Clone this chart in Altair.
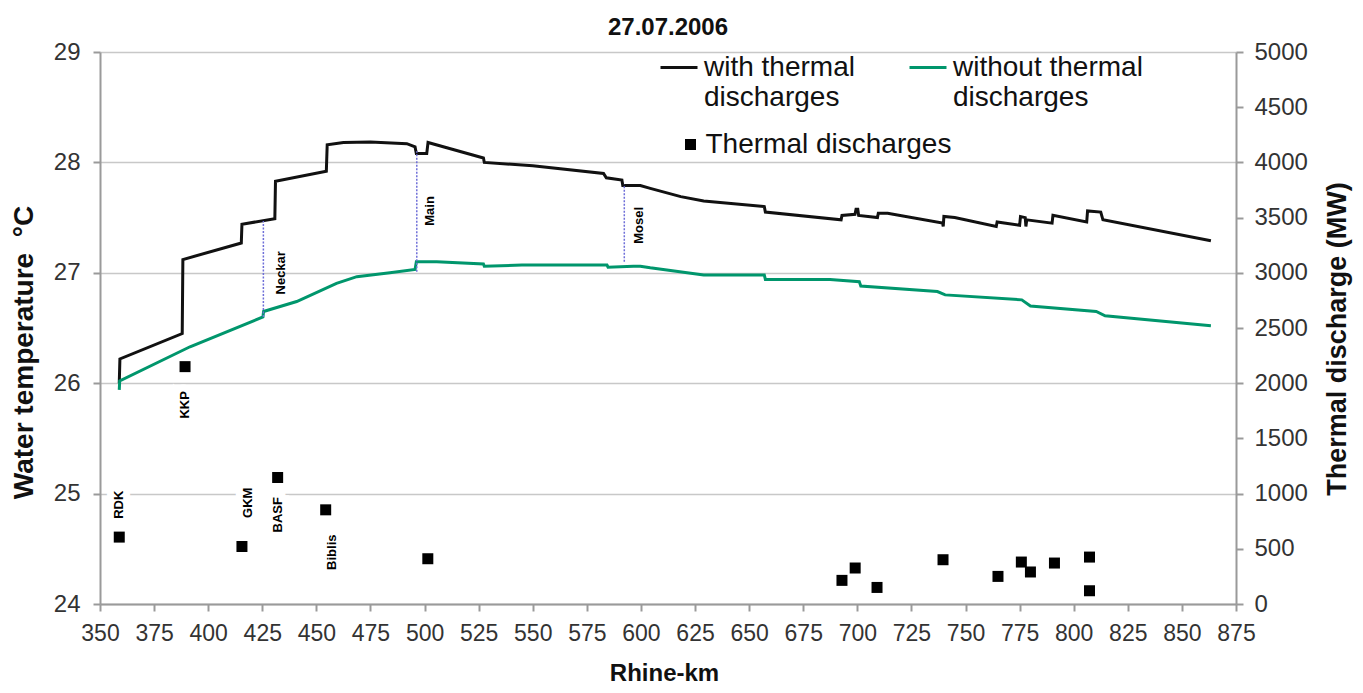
import altair as alt
import pandas as pd

# ---------------- data ----------------
X_TICKS = list(range(350, 876, 25))
Y_LEFT_TICKS = [24, 25, 26, 27, 28, 29]
Y_RIGHT_TICKS = list(range(0, 5001, 500))

SERIES = ["with thermal discharges", "without thermal discharges"]

km_with = [358.9, 359.2, 388.0, 388.3, 415.3, 415.6, 430.8, 431.1, 454.6, 455.0,
           462.5, 475.0, 491.8, 495.6, 496.2, 501.0, 501.6, 527.2, 527.6, 550.0,
           582.7, 584.0, 591.2, 591.6, 599.7, 604.3, 618.4, 629.0, 657.0, 657.5,
           692.5, 692.9, 698.9, 699.4, 700.2, 700.6, 709.3, 709.7, 714.0, 739.4,
           739.7, 740.0, 745.0, 764.2, 764.6, 775.0, 775.4, 777.6, 777.9, 778.3,
           790.0, 790.4, 806.0, 806.4, 812.5, 813.5, 863.4]
t_with = [26.00, 26.22, 26.45, 27.12, 27.27, 27.44, 27.49, 27.83, 27.92, 28.16,
          28.18, 28.185, 28.17, 28.14, 28.08, 28.08, 28.18, 28.04, 28.00, 27.97,
          27.90, 27.86, 27.84, 27.79, 27.79, 27.765, 27.69, 27.65, 27.60, 27.55,
          27.48, 27.52, 27.53, 27.575, 27.575, 27.52, 27.50, 27.54, 27.54, 27.45,
          27.42, 27.51, 27.50, 27.42, 27.46, 27.43, 27.51, 27.50, 27.42, 27.48,
          27.45, 27.52, 27.46, 27.56, 27.55, 27.48, 27.29]

km_without = [358.9, 359.1, 391.6, 425.3, 425.6, 440.9, 459.3, 468.7, 484.0, 495.6,
              496.2, 505.6, 527.2, 527.6, 545.0, 584.3, 584.8, 596.5, 599.7, 604.3,
              629.0, 657.0, 657.5, 687.4, 700.9, 701.6, 737.0, 740.6, 776.0, 780.0,
              810.4, 814.5, 863.4]
t_without = [25.94, 26.02, 26.33, 26.60, 26.65, 26.74, 26.905, 26.965, 27.00, 27.03,
             27.10, 27.10, 27.08, 27.06, 27.07, 27.07, 27.05, 27.06, 27.06, 27.045,
             26.98, 26.98, 26.94, 26.94, 26.92, 26.88, 26.83, 26.80, 26.755, 26.70,
             26.65, 26.61, 26.52]

# thermal discharges (MW, right axis)
plant_km = [358.9, 389.3, 415.6, 432.1, 454.3, 501.5, 692.9, 699.0, 709.1, 739.6,
            765.0, 775.8, 780.0, 791.1, 807.3, 807.3]
plant_mw = [606, 2150, 521, 1146, 853, 410, 214, 326, 150, 401,
            250, 380, 290, 371, 425, 120]

# named plants: label centre in data units
plant_names = ["RDK", "KKP", "GKM", "BASF", "Biblis"]
plant_label_km = [359.0, 389.3, 418.4, 432.4, 457.3]
plant_label_mw = [899, 1804, 917, 808, 469]

# tributaries
trib_names = ["Neckar", "Main", "Mosel"]
trib_km = [425.5, 496.4, 592.3]
trib_t_low = [26.60, 27.01, 27.10]
trib_t_high = [27.47, 28.10, 27.80]
trib_label_km = [433.7, 502.6, 599.2]
trib_label_t = [27.00, 27.56, 27.43]

# ---------------- tables ----------------
lines_df = pd.DataFrame({
    "km": km_with + km_without,
    "T": t_with + t_without,
    "series": [SERIES[0]] * len(km_with) + [SERIES[1]] * len(km_without),
    "idx": list(range(len(km_with))) + list(range(len(km_without))),
})
plants_df = pd.DataFrame({"km": plant_km, "MW": plant_mw, "kind": "Thermal discharges"})
plant_lab_df = pd.DataFrame({"km": plant_label_km, "MW": plant_label_mw, "name": plant_names})
trib_df = pd.DataFrame({"km": trib_km, "lo": trib_t_low, "hi": trib_t_high})
trib_lab_df = pd.DataFrame({"km": trib_label_km, "T": trib_label_t, "name": trib_names})

FONT = "Liberation Sans"

x_axis = alt.Axis(values=X_TICKS, title="Rhine-km", grid=False, labelFontSize=23,
                  tickSize=7, labelPadding=11, labelFlush=False, labelOverlap=False,
                  labelBound=False, titleFontSize=24, titleX=564, titleY=69,
                  titleBaseline="middle", titleAlign="center")
x_enc = alt.X("km:Q", scale=alt.Scale(domain=[350, 875], nice=False, zero=False), axis=x_axis)

y_left_axis = alt.Axis(values=Y_LEFT_TICKS, orient="left", title="Water temperature \u00a0°C",
                       grid=True, gridColor="#c8c8c8", gridWidth=1.5, labelFontSize=24,
                       tickSize=7, labelPadding=13, titleFontSize=28, titleAngle=270,
                       titleX=-76, titleY=300, titleBaseline="middle", titleAlign="center")
y_left_scale = alt.Scale(domain=[24, 29], nice=False, zero=False)

y_right_axis = alt.Axis(values=Y_RIGHT_TICKS, orient="right", title="Thermal discharge (MW)",
                        format="d", grid=False, labelFontSize=24, tickSize=7, labelPadding=11,
                        titleFontSize=27, titleAngle=270, titleX=101.5, titleY=286.5,
                        titleBaseline="middle", titleAlign="center")
y_right_scale = alt.Scale(domain=[0, 5000], nice=False, zero=True)

lines = alt.Chart(lines_df).mark_line(strokeWidth=3).encode(
    x=x_enc,
    y=alt.Y("T:Q", scale=y_left_scale, axis=y_left_axis),
    color=alt.Color("series:N",
                    scale=alt.Scale(domain=SERIES, range=["#111111", "#00966c"]),
                    legend=alt.Legend(
                        title=None, orient="none", legendX=559, legendY=-4.5,
                        direction="horizontal", columns=2, columnPadding=48, padding=0,
                        symbolType="stroke", symbolSize=1369, symbolStrokeWidth=3,
                        labelFontSize=28, labelFont=FONT, labelColor="#111", labelOffset=5,
                        labelBaseline="middle", labelLimit=400,
                        labelExpr="datum.label == 'with thermal discharges' ? ['with thermal', 'discharges'] : ['without thermal', 'discharges']",
                    )),
    order=alt.Order("idx:Q"),
)

trib_rules = alt.Chart(trib_df).mark_rule(color="#6f6fd8", strokeWidth=1.5, strokeDash=[2, 1.5]).encode(
    x=x_enc,
    y=alt.Y("lo:Q", scale=y_left_scale, axis=y_left_axis),
    y2="hi:Q",
)

trib_text = alt.Chart(trib_lab_df).mark_text(
    angle=270, fontSize=13, fontWeight="bold", font=FONT, color="black",
    align="center", baseline="middle").encode(
    x=x_enc,
    y=alt.Y("T:Q", scale=y_left_scale, axis=y_left_axis),
    text="name:N",
)

left = alt.layer(lines, trib_rules, trib_text)

points = alt.Chart(plants_df).mark_point(filled=True, size=121, color="black", opacity=1).encode(
    x=x_enc,
    y=alt.Y("MW:Q", scale=y_right_scale, axis=y_right_axis),
    shape=alt.Shape("kind:N", scale=alt.Scale(domain=["Thermal discharges"], range=["square"]),
                    legend=alt.Legend(title=None, orient="none", legendX=576.5, legendY=78.5,
                                      padding=0, symbolSize=121, symbolFillColor="black",
                                      symbolStrokeColor="black", symbolStrokeWidth=0,
                                      labelFontSize=28, labelFont=FONT, labelColor="#111",
                                      labelOffset=1, labelBaseline="middle", labelLimit=400)),
)

plant_halo = alt.Chart(plant_lab_df).mark_text(
    angle=270, fontSize=13, fontWeight="bold", font=FONT, color="white",
    stroke="white", strokeWidth=14, align="center", baseline="middle").encode(
    x=x_enc,
    y=alt.Y("MW:Q", scale=y_right_scale, axis=y_right_axis),
    text="name:N",
)
plant_text = alt.Chart(plant_lab_df).mark_text(
    angle=270, fontSize=13, fontWeight="bold", font=FONT, color="black",
    align="center", baseline="middle").encode(
    x=x_enc,
    y=alt.Y("MW:Q", scale=y_right_scale, axis=y_right_axis),
    text="name:N",
)

right = alt.layer(plant_halo, points, plant_text)

chart = alt.layer(left, right).resolve_scale(
    y="independent", color="independent", shape="independent"
).properties(
    width=1136, height=552,
    padding={"left": 92, "top": 44, "right": 118, "bottom": 81},
    autosize=alt.AutoSizeParams(type="none"),
    title=alt.Title("27.07.2006", fontSize=24, font=FONT, fontWeight="bold",
                    anchor="middle", frame="group", offset=17, baseline="alphabetic",
                    dy=36, color="#111"),
    background="white",
).configure_view(stroke=None).configure_axis(
    domainColor="#9a9a9a", domainWidth=2, tickColor="#9a9a9a", tickWidth=2,
    labelColor="#333333", labelFont=FONT, titleFont=FONT, titleFontWeight="bold",
    titleColor="#111111",
)

chart.save("out.html", embed_options={"renderer": "svg", "actions": False})
